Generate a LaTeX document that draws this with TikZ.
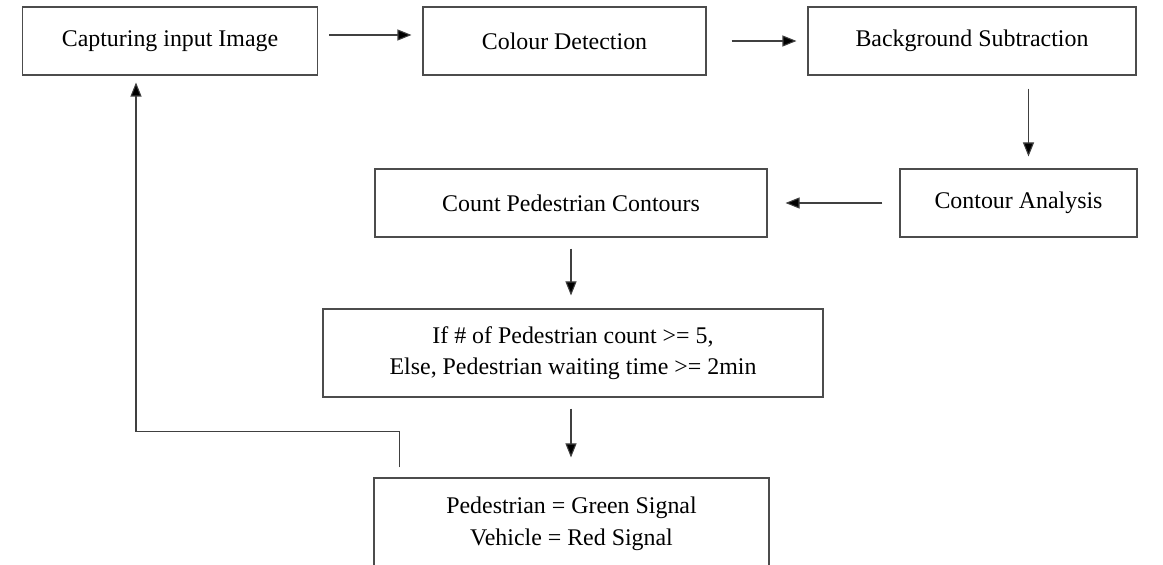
\documentclass[tikz,border=0pt]{standalone}
\usepackage{fontspec}
\setmainfont{Liberation Serif}
\usepackage{tikz}
\usetikzlibrary{calc, arrows.meta}

\begin{document}
\begin{tikzpicture}[
		stage/.style={draw=black!70, line width=0.6pt, minimum height=1.36cm, align=center, inner sep=0pt, font=\fontsize{13.6}{18}\selectfont},
		flow/.style={draw=black!75, line width=0.6pt, -{Triangle[length=0.28cm, width=0.22cm, fill=black]}}
	]
		\useasboundingbox (0, 0) rectangle (23.26, -11.3);

		\node[stage, minimum width=5.9cm] (cap) at (3.4, -0.82) {Capturing input Image};
		\node[stage, minimum width=5.66cm] (col) at (11.29, -0.82) {Colour Detection};
		\node[stage, minimum width=6.56cm] (bg) at (19.44, -0.82) {Background Subtraction};
		\node[stage, minimum width=4.74cm] (cont) at (20.37, -4.06) {Contour Analysis};
		\node[stage, minimum width=7.84cm] (count) at (11.42, -4.06) {Count Pedestrian Contours};
		\node[stage, minimum width=10cm, minimum height=1.76cm] (cond) at (11.46, -7.06) {If \# of Pedestrian count >= 5,\\Else, Pedestrian waiting time >= 2min};
		\node[stage, minimum width=7.9cm, minimum height=1.84cm] (sig) at (11.43, -10.48) {Pedestrian = Green Signal\\Vehicle = Red Signal};

		\coordinate (down) at ([xshift=0.2cm]cont.north);
		\coordinate (up) at ([xshift=-0.68cm]cap.south);
		\coordinate (back) at ([xshift=0.52cm]sig.north west);

		\draw[flow, shorten <=0.22cm, shorten >=0.22cm] ([yshift=0.12cm]cap.east) -- ([yshift=0.12cm]col.west);
		\draw[flow, shorten <=0.5cm, shorten >=0.22cm] (col.east) -- (bg.west);
		\draw[flow, shorten <=0.26cm, shorten >=0.24cm] (bg.south -| down) -- (down);
		\draw[flow, shorten <=0.34cm, shorten >=0.36cm] (cont.west) -- (count.east);
		\draw[flow, shorten <=0.22cm, shorten >=0.26cm] (count.south) -- (cond.north -| count.south);
		\draw[flow, shorten <=0.22cm, shorten >=0.4cm] (cond.south -| count.south) -- (sig.north -| count.south);
		\draw[flow, shorten <=0.2cm, shorten >=0.14cm] (back) -- ++(0, 0.92) -| (up);
	\end{tikzpicture}
\end{document}
